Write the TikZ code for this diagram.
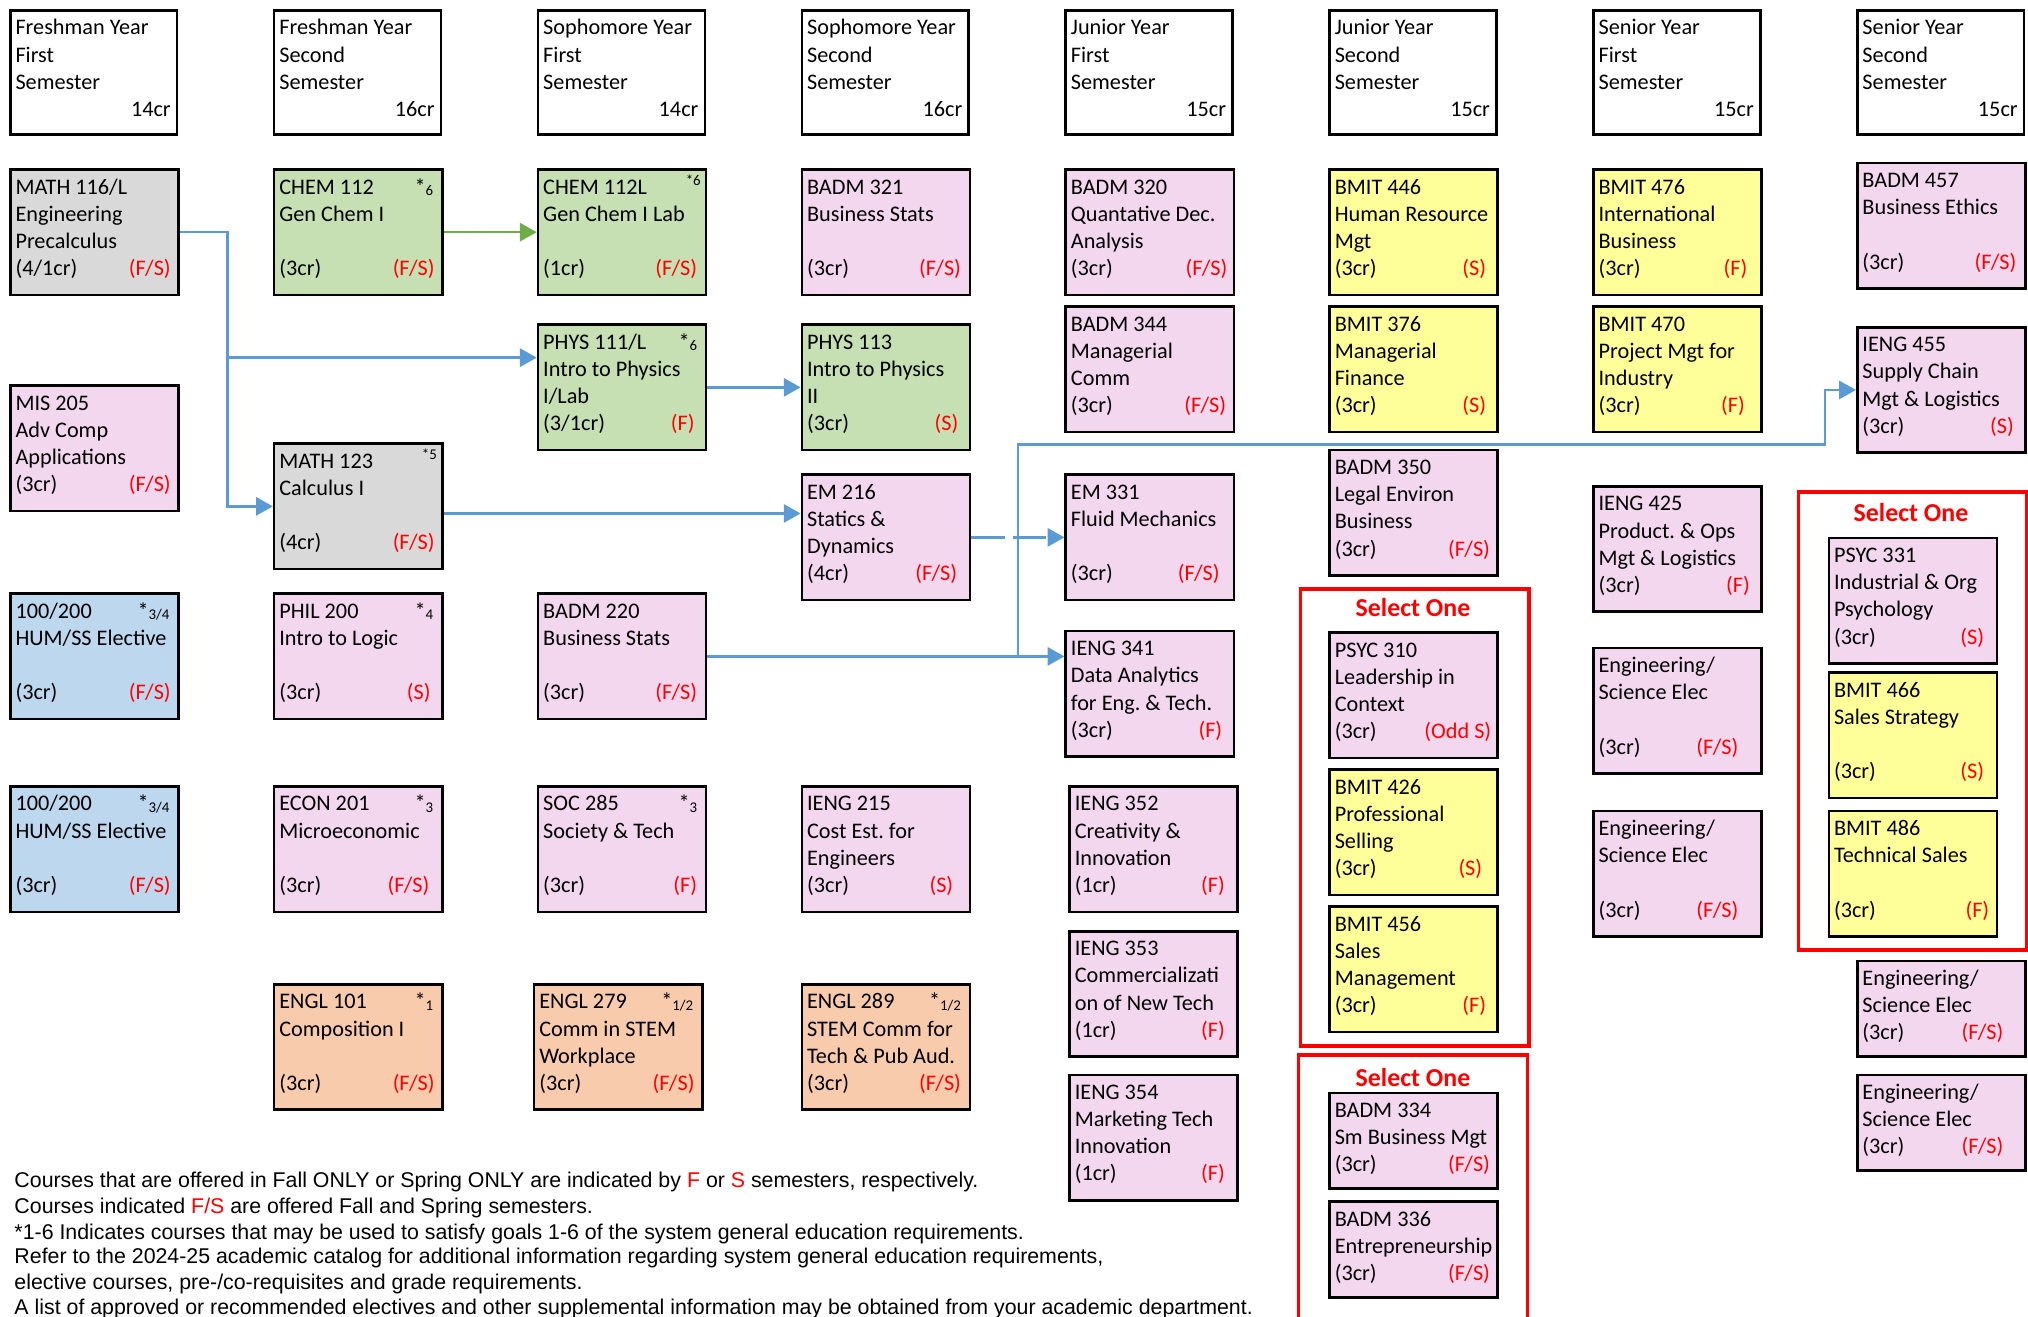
\documentclass[tikz,border=0pt]{standalone}
\usepackage{fontspec}
\setmainfont{Carlito}
\newfontfamily\arialf{Liberation Sans}
\usetikzlibrary{arrows.meta,calc}
\frenchspacing
\definecolor{cgray}{HTML}{D9D9D9}
\definecolor{cgreen}{HTML}{C6E0B4}
\definecolor{cpink}{HTML}{F2D7EF}
\definecolor{cyellow}{HTML}{FFFF99}
\definecolor{cblue}{HTML}{BDD7EE}
\definecolor{corange}{HTML}{F8CBAD}
\definecolor{cred}{HTML}{FF0000}
\definecolor{carrow}{HTML}{5B9BD5}
\definecolor{cgarrow}{HTML}{70AD47}
\tikzset{
  cbox/.style={draw=black, line width=2pt, rectangle, inner sep=0pt, minimum width=130pt, anchor=north west},
  txt/.style={inner sep=0pt, outer sep=0pt, font=\fontsize{17.2}{21}\selectfont},
  termtxt/.style={txt, text=cred},
  arr/.style={draw=carrow, line width=2pt, -{Triangle[length=13pt,width=14pt]}},
  garr/.style={arr, draw=cgarrow},
  redframe/.style={draw=cred, line width=3pt, rectangle, inner sep=0pt, anchor=north west},
  seltxt/.style={inner sep=0pt, text=cred, font=\fontsize{20}{24}\selectfont\bfseries},
  foot/.style={inner sep=0pt, anchor=base west, font=\arialf\fontsize{16.5}{20}\selectfont},
}
\newcommand{\course}[9][7]{%
  \node[cbox, fill=#5, minimum height=#4pt] (#2) at (#3) {};
  \foreach \t [count=\i from 0] in {#7} {
    \node[txt, anchor=base west] (#2-l\i) at ($(#2.north west)+(5,{20+21*\i})$) {\t};
  }
  \pgfmathsetmacro\cyy{20+21*(#6-1)}
  \node[txt, anchor=base west] (#2-cr) at ($(#2.north west)+(5,\cyy)$) {#8};
  \node[termtxt, anchor=base east] (#2-tm) at ($(#2.north east)+(-#1,\cyy)$) {#9};
}
\newcommand{\semhead}[5]{%
  \node[cbox, fill=white, minimum width=129pt, minimum height=96pt] (#1) at (#2,7) {};
  \node[txt, anchor=base west] (#1-a) at ($(#1.north west)+(5,20)$) {#3};
  \node[txt, anchor=base west] (#1-b) at ($(#1.north west)+(5,41)$) {#4};
  \node[txt, anchor=base west] (#1-c) at ($(#1.north west)+(5,62)$) {Semester};
  \node[txt, anchor=base east] (#1-d) at ($(#1.north east)+(-6,83)$) {#5};
}
\newcommand{\gebig}[2]{\node[txt, anchor=base east] (#1-mk) at ($(#1.north east)+(-8,20)$) {*\raisebox{-1pt}{\fontsize{11.5}{11.5}\selectfont #2}};}
\newcommand{\gesmall}[2]{\node[inner sep=0pt, anchor=north east, font=\fontsize{11.5}{11.5}\selectfont] (#1-mk) at ($(#1.north east)+(-5,5)$) {*#2};}
\begin{document}
\begin{tikzpicture}[x=1pt, y=-1pt]
\fill[white] (0,0) rectangle (1568,1018);
\useasboundingbox (0,0) rectangle (1568,1018);
% headers
\semhead{h1}{7}{Freshman Year}{First}{14cr}
\semhead{h2}{211}{Freshman Year}{Second}{16cr}
\semhead{h3}{415}{Sophomore Year}{First}{14cr}
\semhead{h4}{619}{Sophomore Year}{Second}{16cr}
\semhead{h5}{823}{Junior Year}{First}{15cr}
\semhead{h6}{1027}{Junior Year}{Second}{15cr}
\semhead{h7}{1231}{Senior Year}{First}{15cr}
\semhead{h8}{1435}{Senior Year}{Second}{15cr}
% row 1
\course{math116}{7,130}{97}{cgray}{4}{{MATH 116/L},{Engineering},{Precalculus}}{(4/1cr)}{(F/S)}
\course{chem112}{211,130}{97}{cgreen}{4}{{CHEM 112},{Gen Chem I}}{(3cr)}{(F/S)}
\gebig{chem112}{6}
\course[8]{chem112l}{415,130}{97}{cgreen}{4}{{CHEM 112L},{Gen Chem I Lab}}{(1cr)}{(F/S)}
\gesmall{chem112l}{6}
\course[8]{badm321}{619,130}{97}{cpink}{4}{{BADM 321},{Business Stats}}{(3cr)}{(F/S)}
\course[6]{badm320}{823,130}{97}{cpink}{4}{{BADM 320},{Quantative Dec.},{Analysis}}{(3cr)}{(F/S)}
\course[10]{bmit446}{1027,130}{97}{cyellow}{4}{{BMIT 446},{Human Resource},{Mgt}}{(3cr)}{(S)}
\course[12]{bmit476}{1231,130}{97}{cyellow}{4}{{BMIT 476},{International},{Business}}{(3cr)}{(F)}
\course[8]{badm457}{1435,125}{97}{cpink}{4}{{BADM 457},{Business Ethics}}{(3cr)}{(F/S)}
% row 2
\course{mis205}{7,297}{97}{cpink}{4}{{MIS 205},{Adv Comp},{Applications}}{(3cr)}{(F/S)}
\course[10]{phys111}{415,250}{97}{cgreen}{4}{{PHYS 111/L},{Intro to Physics},{I/Lab}}{(3/1cr)}{(F)}
\gebig{phys111}{6}
\course[10]{phys113}{619,250}{97}{cgreen}{4}{{PHYS 113},{Intro to Physics},{II}}{(3cr)}{(S)}
\course{badm344}{823,236}{97}{cpink}{4}{{BADM 344},{Managerial},{Comm}}{(3cr)}{(F/S)}
\course[10]{bmit376}{1027,236}{97}{cyellow}{4}{{BMIT 376},{Managerial},{Finance}}{(3cr)}{(S)}
\course[14]{bmit470}{1231,236}{97}{cyellow}{4}{{BMIT 470},{Project Mgt for},{Industry}}{(3cr)}{(F)}
\course[10]{ieng455}{1435,252}{97}{cpink}{4}{{IENG 455},{Supply Chain},{Mgt \& Logistics}}{(3cr)}{(S)}
% row 3
\course{math123}{211,342}{97}{cgray}{4}{{MATH 123},{Calculus I}}{(4cr)}{(F/S)}
\gesmall{math123}{5}
\course[11]{em216}{619,366}{97}{cpink}{4}{{EM 216},{Statics \&},{Dynamics}}{(4cr)}{(F/S)}
\course[12]{em331}{823,366}{97}{cpink}{4}{{EM 331},{Fluid Mechanics}}{(3cr)}{(F/S)}
\course{badm350}{1027,347}{97}{cpink}{4}{{BADM 350},{Legal Environ},{Business}}{(3cr)}{(F/S)}
\course[10]{ieng425}{1231,375}{97}{cpink}{4}{{IENG 425},{Product. \& Ops},{Mgt \& Logistics}}{(3cr)}{(F)}
% row 4
\course{hum1}{7,458}{97}{cblue}{4}{{100/200},{HUM/SS Elective}}{(3cr)}{(F/S)}
\gebig{hum1}{3/4}
\course[10]{phil200}{211,458}{97}{cpink}{4}{{PHIL 200},{Intro to Logic}}{(3cr)}{(S)}
\gebig{phil200}{4}
\course[8]{badm220}{415,458}{97}{cpink}{4}{{BADM 220},{Business Stats}}{(3cr)}{(F/S)}
\course[10]{ieng341}{823,487}{97}{cpink}{4}{{IENG 341},{Data Analytics},{for Eng. \& Tech.}}{(3cr)}{(F)}
\course[19]{engsci1}{1231,500}{97}{cpink}{4}{{Engineering/},{Science Elec}}{(3cr)}{(F/S)}
% select one (junior 2nd)
\node[redframe, minimum width=177pt, minimum height=353pt] (so1) at (1004,454) {};
\node[seltxt] (so1-t) at (1092.5,470) {Select One};
\course[6]{psyc310}{1027,488}{97}{cpink}{4}{{PSYC 310},{Leadership in},{Context}}{(3cr)}{(Odd S)}
\course[13]{bmit426}{1027,594}{97}{cyellow}{4}{{BMIT 426},{Professional},{Selling}}{(3cr)}{(S)}
\course[10]{bmit456}{1027,700}{97}{cyellow}{4}{{BMIT 456},{Sales},{Management}}{(3cr)}{(F)}
% select one (lower)
\draw[draw=cred, line width=3pt] (1004,1030) |- (1181,816) -- (1181,1030);
\node[seltxt] (so2-t) at (1092.5,833) {Select One};
\course{badm334}{1027,844}{74}{cpink}{3}{{BADM 334},{Sm Business Mgt}}{(3cr)}{(F/S)}
\course{badm336}{1027,928}{74}{cpink}{3}{{BADM 336},{Entrepreneurship}}{(3cr)}{(F/S)}
% select one (senior 2nd)
\node[redframe, minimum width=177pt, minimum height=354pt] (so3) at (1389,379) {};
\node[seltxt] (so3-t) at (1477.5,396) {Select One};
\course[11]{psyc331}{1413,415}{97}{cpink}{4}{{PSYC 331},{Industrial \& Org},{Psychology}}{(3cr)}{(S)}
\course[11]{bmit466}{1413,519}{97}{cyellow}{4}{{BMIT 466},{Sales Strategy}}{(3cr)}{(S)}
\course{bmit486}{1413,626}{97}{cyellow}{4}{{BMIT 486},{Technical Sales}}{(3cr)}{(F)}
% row 5
\course{hum2}{7,607}{97}{cblue}{4}{{100/200},{HUM/SS Elective}}{(3cr)}{(F/S)}
\gebig{hum2}{3/4}
\course[11]{econ201}{211,607}{97}{cpink}{4}{{ECON 201},{Microeconomic}}{(3cr)}{(F/S)}
\gebig{econ201}{3}
\course[8]{soc285}{415,607}{97}{cpink}{4}{{SOC 285},{Society \& Tech}}{(3cr)}{(F)}
\gebig{soc285}{3}
\course[14]{ieng215}{619,607}{97}{cpink}{4}{{IENG 215},{Cost Est. for},{Engineers}}{(3cr)}{(S)}
\course[11]{ieng352}{826,607}{97}{cpink}{4}{{IENG 352},{Creativity \&},{Innovation}}{(1cr)}{(F)}
\course[19]{engsci2}{1231,626}{97}{cpink}{4}{{Engineering/},{Science Elec}}{(3cr)}{(F/S)}
% row 6
\course{engl101}{211,760}{97}{corange}{4}{{ENGL 101},{Composition I}}{(3cr)}{(F/S)}
\gebig{engl101}{1}
\course{engl279}{412,760}{97}{corange}{4}{{ENGL 279},{Comm in STEM},{Workplace}}{(3cr)}{(F/S)}
\gebig{engl279}{1/2}
\course[8]{engl289}{619,760}{97}{corange}{4}{{ENGL 289},{STEM Comm for},{Tech \& Pub Aud.}}{(3cr)}{(F/S)}
\gebig{engl289}{1/2}
\course[11]{ieng353}{826,719}{97}{cpink}{4}{{IENG 353},{Commercializati},{on of New Tech}}{(1cr)}{(F)}
\course[11]{ieng354}{826,830}{97}{cpink}{4}{{IENG 354},{Marketing Tech},{Innovation}}{(1cr)}{(F)}
\course[18]{engsci3}{1435,742}{74}{cpink}{3}{{Engineering/},{Science Elec}}{(3cr)}{(F/S)}
\course[18]{engsci4}{1435,830}{74}{cpink}{3}{{Engineering/},{Science Elec}}{(3cr)}{(F/S)}
% connectors
\coordinate (j1) at ($(math116.east)+(37,0)$);
\draw[arr] (math116.east) -- (j1) |- (math123.west);
\coordinate (p111in) at ($(phys111.west)+(0,-23)$);
\draw[arr] (j1 |- p111in) -- (p111in);
\draw[garr] (chem112.east) -- (chem112l.west);
\draw[arr] (phys111.east) -- (phys113.west);
\coordinate (m123out) at ($(math123.east)+(0,5.5)$);
\draw[arr] (m123out) -- (em216.west |- m123out);
\draw[arr, dash pattern=on 26pt off 6pt] (em216.east) -- (em331.west);
\draw[arr] (badm220.east) -- (ieng341.west |- badm220.east);
\coordinate (j2) at ($(badm220.east)+(240,0)$);
\coordinate (j3) at ($(j2)+(0,-164)$);
\coordinate (j4) at ($(ieng455.west |- j3)+(-24,0)$);
\draw[arr] (j2) -- (j3) -- (j4) |- (ieng455.west);
% footer
\node[foot] (f1) at (11,918) {Courses that are offered in Fall ONLY or Spring ONLY are indicated by \textcolor{cred}{F} or \textcolor{cred}{S} semesters, respectively.};
\node[foot] (f2) at (11,938) {Courses indicated \textcolor{cred}{F/S} are offered Fall and Spring semesters.};
\node[foot] (f3) at (11,958) {*1-6 Indicates courses that may be used to satisfy goals 1-6 of the system general education requirements.};
\node[foot] (f4) at (11,977) {Refer to the 2024-25 academic catalog for additional information regarding system general education requirements,};
\node[foot] (f5) at (11,997) {elective courses, pre-/co-requisites and grade requirements.};
\node[foot] (f6) at (11,1016) {A list of approved or recommended electives and other supplemental information may be obtained from your academic department.};
\end{tikzpicture}
\end{document}
